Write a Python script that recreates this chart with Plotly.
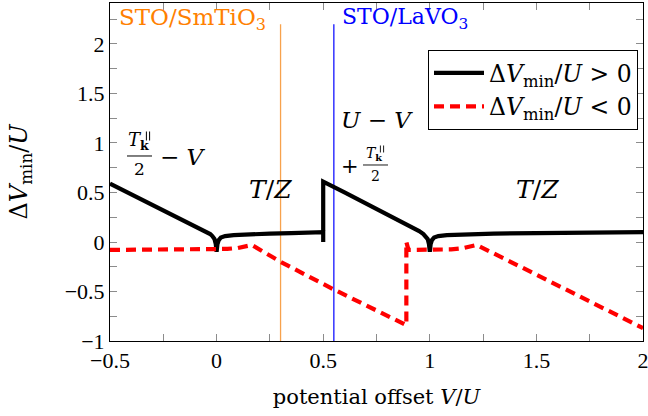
import plotly.graph_objects as go

# ---------------- data ----------------
black_x = [-0.5, -0.3, -0.1, -0.05, -0.03, -0.02, -0.01, -0.004, 0.0,
           0.004, 0.01, 0.02, 0.04, 0.08, 0.15, 0.25, 0.35, 0.45, 0.5, 0.5, 0.5,
           0.6, 0.7, 0.8, 0.9, 0.95, 0.97, 0.98, 0.99, 0.996, 1.0,
           1.004, 1.01, 1.02, 1.04, 1.08, 1.15, 1.3, 1.5, 1.75, 2.0]
black_y = [0.59, 0.37, 0.155, 0.105, 0.08, 0.06, 0.03, -0.02, -0.1,
           -0.02, 0.02, 0.045, 0.06, 0.07, 0.078, 0.085, 0.09, 0.095, 0.1, 0.0, 0.61,
           0.5, 0.39, 0.28, 0.17, 0.11, 0.08, 0.06, 0.03, -0.02, -0.1,
           -0.02, 0.02, 0.045, 0.06, 0.07, 0.078, 0.085, 0.09, 0.095, 0.1]

red_x = [-0.5, -0.25, 0.0, 0.05, 0.1, 0.165, 0.3, 0.55, 0.89, 0.89, 0.9,
         1.0, 1.1, 1.15, 1.22, 1.5, 1.75, 2.0]
red_y = [-0.08, -0.08, -0.075, -0.07, -0.06, -0.03, -0.2, -0.48, -0.84, 0.0, -0.08,
         -0.08, -0.075, -0.065, -0.03, -0.33, -0.6, -0.87]

series_names = ["Δ<i>V</i><sub>min</sub>/<i>U</i> &gt; 0",
                "Δ<i>V</i><sub>min</sub>/<i>U</i> &lt; 0"]

vline_x = [0.3, 0.55]
vline_top = 2.2
vline_labels = ["STO/SmTiO<sub>3</sub>", "STO/LaVO<sub>3</sub>"]

x_ticks = [-0.5, 0, 0.5, 1, 1.5, 2]
y_ticks = [-1, -0.5, 0, 0.5, 1, 1.5, 2]

# ---------------- figure ----------------
TICKFONT = "Liberation Serif"
FONT = "DejaVu Serif"
ORANGE_TXT = "#FF8000"
ORANGE_LINE = "#F7A24C"
BLUE = "#0000FF"

L, R, T, B = 110, 643, 3, 341

fig = go.Figure()
fig.add_trace(go.Scatter(x=black_x, y=black_y, mode="lines", name=series_names[0],
                         line=dict(color="black", width=4.2)))
fig.add_trace(go.Scatter(x=red_x, y=red_y, mode="lines", name=series_names[1],
                         line=dict(color="#FF0000", width=4.2, dash="10px,6px")))

fig.add_shape(type="line", x0=vline_x[0], x1=vline_x[0], y0=-1, y1=vline_top,
              line=dict(color=ORANGE_LINE, width=1.3), layer="below")
fig.add_shape(type="line", x0=vline_x[1], x1=vline_x[1], y0=-1, y1=vline_top,
              line=dict(color=BLUE, width=1.2), layer="below")

# pixel -> data helpers for annotation placement
def dx(px):
    return -0.5 + (px - L) * 2.5 / (R - L)

def dy(py):
    return -1 + (B - py) / 99.0

anns = []
def txt(text, px, py, size=22, color="black", xanchor="center", yanchor="middle",
        family=FONT):
    anns.append(dict(text=text, x=dx(px), y=dy(py), xref="x", yref="y",
                     showarrow=False, xanchor=xanchor, yanchor=yanchor,
                     borderpad=0,
                     font=dict(family=family, size=size, color=color)))

def parallel(px, py, h, w=1.0):
    # the "parallel" superscript drawn as two short strokes
    for off in (-1.6, 1.6):
        fig.add_shape(type="line", x0=dx(px + off), x1=dx(px + off),
                      y0=dy(py - h / 2), y1=dy(py + h / 2),
                      line=dict(color="black", width=w))

txt(vline_labels[0], 118, 19, size=23, color=ORANGE_TXT, xanchor="left")
txt(vline_labels[1], 341, 19, size=22, color=BLUE, xanchor="left")
txt("<i>T</i>/<i>Z</i>", 270, 190, size=25)
txt("<i>T</i>/<i>Z</i>", 537, 190, size=25)

# fraction 1: T_k^||/2 - V
txt("<i>T</i><sub><b>k</b></sub>", 138, 154, size=18, yanchor="bottom")
parallel(148, 136, 9)
fig.add_shape(type="line", x0=dx(127), x1=dx(152), y0=dy(156), y1=dy(156),
              line=dict(color="black", width=1))
txt("2", 139, 158, size=17, yanchor="top")
txt("− <i>V</i>", 183, 157, size=23)

# fraction 2: U - V + T_k^||/2
txt("<i>U</i> − <i>V</i>", 377, 120, size=23)
txt("+", 350, 166, size=21)
txt("<i>T</i><sub><b>k</b></sub>", 374, 164, size=14, yanchor="bottom")
parallel(382, 149, 7, 0.9)
fig.add_shape(type="line", x0=dx(363), x1=dx(388), y0=dy(165), y1=dy(165),
              line=dict(color="black", width=0.9))
txt("2", 375, 167, size=14, yanchor="top")

axis_common = dict(showline=True, linecolor="black", linewidth=1, mirror="ticks",
                   ticks="inside", ticklen=7, tickcolor="#8c8c8c", tickwidth=1,
                   showgrid=False, zeroline=False, ticklabeloverflow="allow",
                   automargin=False,
                   tickfont=dict(family=TICKFONT, size=22, color="black"),
                   minor=dict(dtick=0.25, ticks="inside", ticklen=7,
                              tickcolor="#8c8c8c", tickwidth=1, showgrid=False))

fig.update_layout(
    width=648, height=416,
    margin=dict(l=L, r=648 - R, t=T, b=416 - B),
    paper_bgcolor="white", plot_bgcolor="white",
    font=dict(family=FONT, size=22, color="black"),
    xaxis=dict(range=[-0.5, 2], tickvals=x_ticks,
               title=dict(text="potential offset <i>V</i>/<i>U</i>", standoff=16,
                          font=dict(family=FONT, size=21)),
               **axis_common),
    yaxis=dict(range=[-1, 2.414], tickvals=y_ticks,
               title=dict(text="Δ<i>V</i><sub>min</sub>/<i>U</i>", standoff=30,
                          font=dict(family=FONT, size=24)),
               **axis_common),
    legend=dict(x=(638 - L) / (R - L), y=(B - 50) / (B - T),
                xanchor="right", yanchor="top", itemwidth=50,
                bordercolor="black", borderwidth=1, bgcolor="white",
                font=dict(family=FONT, size=23.5), tracegroupgap=0),
    annotations=anns,
    showlegend=True,
)

fig.write_html("out.html")
